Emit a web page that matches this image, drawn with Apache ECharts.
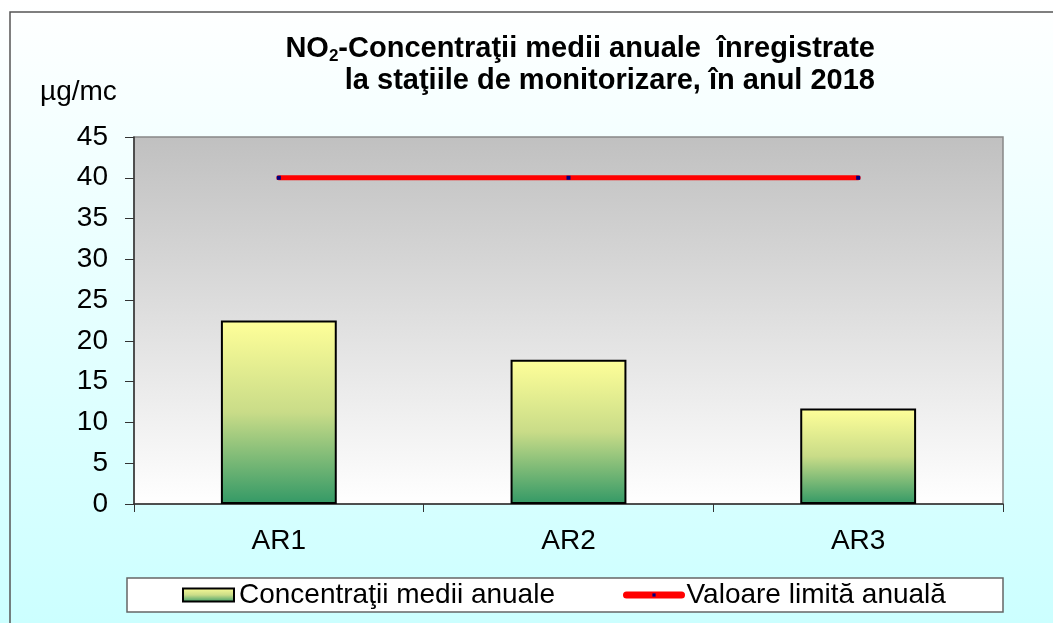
<!DOCTYPE html>
<html>
<head>
<meta charset="utf-8">
<script src="https://cdn.jsdelivr.net/npm/echarts@6/dist/echarts.min.js"></script>
<style>
html, body { margin: 0; padding: 0; }
#chart { width: 1053px; height: 623px; }
</style>
</head>
<body>
<div id="chart"></div>
<script>
// date
var categories = ['AR1', 'AR2', 'AR3'];
var concentratii = [22.5, 17.7, 11.7];
var valoareLimita = [40, 40, 40];
var yTicks = { min: 0, max: 45, interval: 5 };

var FONT = '"Liberation Sans", Arial, sans-serif';
// patratel mic centrat (cutia include punctele 0,0 si 10,10)
var DOT = 'path://M0,0L0,0M3,3h4v4h-4zM10,10L10,10';

var myChart = echarts.init(document.getElementById('chart'));

var barGradient = new echarts.graphic.LinearGradient(0, 0, 0, 1, [
    { offset: 0, color: '#ffff99' },
    { offset: 0.5, color: '#c9dc88' },
    { offset: 1, color: '#339966' }
]);

var legendText = { fontFamily: FONT, fontSize: 28, color: '#000' };

var options = {
    animation: false,
    backgroundColor: new echarts.graphic.LinearGradient(0, 0, 0, 1, [
        { offset: 0, color: '#ffffff' },
        { offset: 1, color: '#ccffff' }
    ]),
    textStyle: { fontFamily: FONT },
    title: {
        left: 870,
        top: 28,
        textAlign: 'right',
        text: '{b|NO}{sub|2}{b|-Concentraţii medii anuale  înregistrate}\n{b|la staţiile de monitorizare, în anul 2018}',
        textStyle: {
            align: 'right',
            lineHeight: 32,
            rich: {
                b: { fontFamily: FONT, fontWeight: 'bold', fontSize: 29, color: '#000', lineHeight: 32 },
                sub: { fontFamily: FONT, fontWeight: 'bold', fontSize: 17, color: '#000', verticalAlign: 'bottom', lineHeight: 24 }
            }
        }
    },
    graphic: [
        {
            type: 'rect',
            shape: { x: 10, y: 12, width: 1060, height: 640 },
            style: { fill: 'none', stroke: '#555', lineWidth: 1.5 },
            silent: true
        },
        {
            type: 'text',
            left: 40,
            top: 78,
            style: { text: 'µg/mc', fontFamily: FONT, fontSize: 28, fill: '#000' }
        },
        {
            type: 'rect',
            z: 0,
            shape: { x: 127, y: 578, width: 876, height: 34 },
            style: { fill: '#ffffff', stroke: '#666', lineWidth: 1.5 }
        }
    ],
    legend: [
        {
            left: 182,
            top: 581,
            padding: 0,
            z: 5,
            itemWidth: 51,
            itemHeight: 13,
            textStyle: legendText,
            data: [{ name: 'Concentraţii medii anuale', icon: 'rect' }]
        },
        {
            left: 623,
            top: 581,
            padding: 0,
            z: 5,
            itemWidth: 55,
            itemHeight: 10,
            textStyle: legendText,
            lineStyle: { width: 7, cap: 'round', color: '#ff0000' },
            data: ['Valoare limită anuală']
        }
    ],
    grid: {
        left: 134,
        right: 50,
        top: 137,
        bottom: 119,
        show: true,
        borderColor: '#888',
        borderWidth: 1.5,
        backgroundColor: new echarts.graphic.LinearGradient(0, 0, 0, 1, [
            { offset: 0, color: '#c0c0c0' },
            { offset: 1, color: '#ffffff' }
        ])
    },
    xAxis: {
        type: 'category',
        data: categories,
        boundaryGap: true,
        axisLine: { lineStyle: { color: '#333', width: 1.5 } },
        axisTick: { show: true, length: 8, lineStyle: { color: '#333' } },
        axisLabel: { fontFamily: FONT, fontSize: 28, color: '#000', margin: 23 }
    },
    yAxis: {
        type: 'value',
        min: yTicks.min,
        max: yTicks.max,
        interval: yTicks.interval,
        axisLine: { show: true, lineStyle: { color: '#333', width: 1.5 } },
        axisTick: { show: true, length: 9, lineStyle: { color: '#333' } },
        splitLine: { show: false },
        axisLabel: { fontFamily: FONT, fontSize: 28, color: '#000', margin: 26 }
    },
    series: [
        {
            name: 'Concentraţii medii anuale',
            type: 'bar',
            data: concentratii,
            barWidth: '40%',
            itemStyle: {
                color: barGradient,
                borderColor: '#000',
                borderWidth: 2
            }
        },
        {
            name: 'Valoare limită anuală',
            type: 'line',
            data: valoareLimita,
            symbol: DOT,
            symbolSize: 10,
            itemStyle: { color: '#000080', borderWidth: 0 },
            lineStyle: { color: '#ff0000', width: 5, cap: 'round' },
            z: 3
        }
    ]
};

myChart.setOption(options);
</script>
</body>
</html>
